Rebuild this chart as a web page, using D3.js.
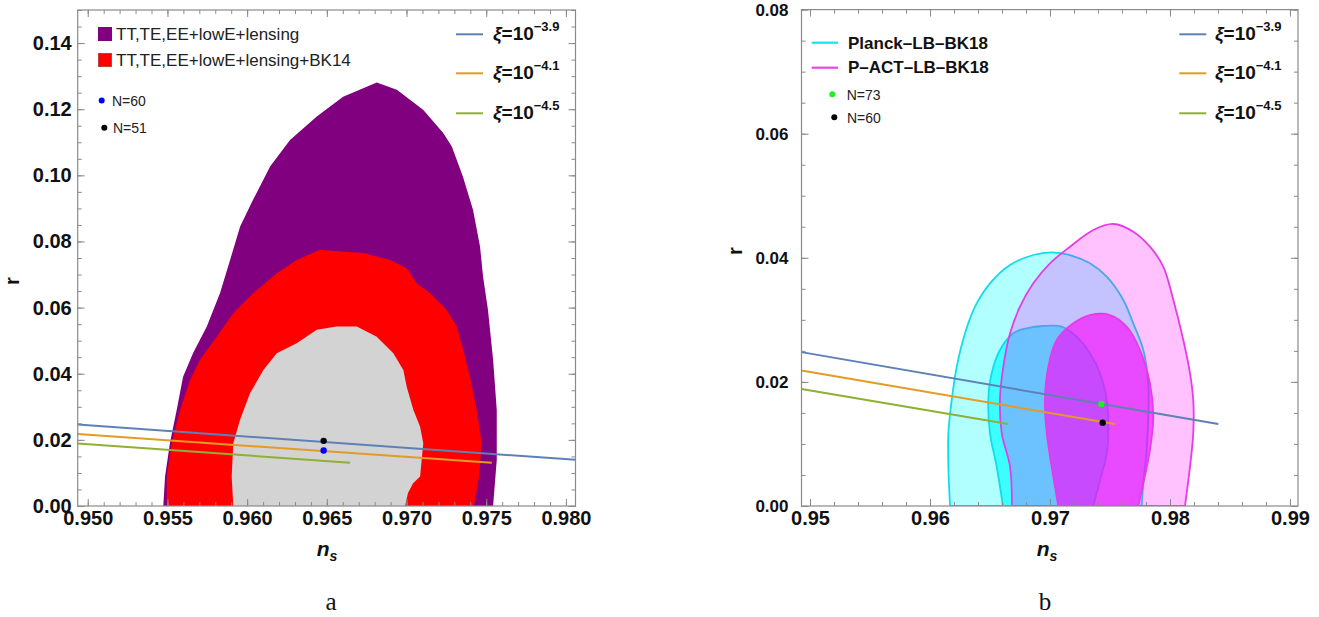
<!DOCTYPE html>
<html><head><meta charset="utf-8">
<script src="https://cdn.jsdelivr.net/npm/d3@7"></script>
<style>body{margin:0;background:#fff;} svg{display:block}</style>
</head><body><svg id="c" width="1319" height="617"></svg>
<script>
// ---------------- DATA ----------------
const leftXDomain = [0.94937, 0.9806];
const leftYDomain = [0, 0.15];
const rightXDomain = [0.94929, 0.99067];
const rightYDomain = [0, 0.08];

const leftXTicks = [0.950, 0.955, 0.960, 0.965, 0.970, 0.975, 0.980];
const leftYTicks = [0.00, 0.02, 0.04, 0.06, 0.08, 0.10, 0.12, 0.14];
const rightXTicks = [0.95, 0.96, 0.97, 0.98, 0.99];
const rightYTicks = [0.00, 0.02, 0.04, 0.06, 0.08];

// Panel a contours (ns, r)
const purpleRegion = [[0.95474,0],[0.95485,0.0089],[0.95516,0.0191],[0.95558,0.0290],[0.95598,0.0391],[0.95661,0.0463],[0.95747,0.0543],[0.95830,0.0644],[0.95893,0.0744],[0.95956,0.0845],[0.96037,0.0926],[0.96144,0.1027],[0.96269,0.1107],[0.96437,0.1178],[0.96602,0.1238],[0.96813,0.1281],[0.96939,0.1259],[0.97104,0.1198],[0.97229,0.1129],[0.97284,0.1087],[0.97354,0.0996],[0.97417,0.0896],[0.97461,0.0785],[0.97480,0.0694],[0.97511,0.0593],[0.97543,0.0442],[0.97566,0.0290],[0.97566,0.0139],[0.97543,0]];
const redRegion = [[0.95496,0],[0.95496,0.0089],[0.95527,0.0190],[0.95579,0.0290],[0.95642,0.0381],[0.95704,0.0442],[0.95809,0.0512],[0.95913,0.0583],[0.96039,0.0644],[0.96186,0.0704],[0.96311,0.0744],[0.96457,0.0775],[0.96604,0.0769],[0.96729,0.0765],[0.96897,0.0744],[0.97001,0.0719],[0.97064,0.0674],[0.97147,0.0644],[0.97252,0.0593],[0.97315,0.0543],[0.97356,0.0472],[0.97398,0.0391],[0.97440,0.0290],[0.97472,0.0190],[0.97455,0.0089],[0.97423,0]];
const grayRegion = [[0.95913,0],[0.95903,0.0089],[0.95913,0.0190],[0.95955,0.0260],[0.96018,0.0341],[0.96102,0.0411],[0.96186,0.0462],[0.96311,0.0492],[0.96437,0.0533],[0.96562,0.0543],[0.96688,0.0543],[0.96813,0.0512],[0.96917,0.0462],[0.96980,0.0411],[0.97001,0.0361],[0.97043,0.0290],[0.97085,0.0240],[0.97105,0.0190],[0.97085,0.0089],[0.97041,0.0069],[0.97009,0.0039],[0.96991,0]];

// Panel a xi lines and points
const leftXi39 = [[0.94937,0.02463],[0.9806,0.01395]];
const leftXi41 = [[0.94937,0.02175],[0.97535,0.0131]];
const leftXi45 = [[0.94937,0.01888],[0.96646,0.0131]];
const leftPointN60 = [0.9648, 0.0168];
const leftPointN51 = [0.9648, 0.0197];

// Panel b contours (ns, r)
const planckOuter = [[0.96167,0],[0.96153,0.00633],[0.96153,0.01172],[0.96181,0.01708],[0.96223,0.02245],[0.96292,0.02783],[0.96375,0.03212],[0.96500,0.03589],[0.96667,0.03884],[0.96861,0.04045],[0.97014,0.04089],[0.97167,0.04045],[0.97333,0.03911],[0.97473,0.03695],[0.97611,0.03320],[0.97694,0.02944],[0.97778,0.02514],[0.97819,0.01977],[0.97819,0.01439],[0.97806,0.00902],[0.97778,0.00366],[0.97764,0]];
const planckInner = [[0.96608,0],[0.96556,0.00633],[0.96500,0.01172],[0.96486,0.01708],[0.96514,0.02139],[0.96583,0.02514],[0.96694,0.02783],[0.96806,0.02864],[0.96944,0.02901],[0.97097,0.02890],[0.97222,0.02728],[0.97333,0.02461],[0.97417,0.02139],[0.97473,0.01708],[0.97486,0.01278],[0.97473,0.00849],[0.97417,0.00419],[0.97361,0]];
const pactOuter = [[0.96683,0],[0.96667,0.00633],[0.96598,0.01172],[0.96583,0.01708],[0.96611,0.02245],[0.96667,0.02783],[0.96750,0.03212],[0.96861,0.03589],[0.97000,0.03911],[0.97167,0.04179],[0.97361,0.04448],[0.97528,0.04545],[0.97694,0.04421],[0.97833,0.04179],[0.97944,0.03857],[0.98028,0.03320],[0.98111,0.02675],[0.98167,0.02139],[0.98194,0.01708],[0.98194,0.01172],[0.98167,0.00633],[0.98125,0]];
const pactInner = [[0.97069,0],[0.97014,0.00633],[0.96973,0.01172],[0.96958,0.01708],[0.96986,0.02245],[0.97056,0.02675],[0.97194,0.02944],[0.97333,0.03078],[0.97500,0.03078],[0.97639,0.02890],[0.97750,0.02514],[0.97833,0.01977],[0.97861,0.01439],[0.97833,0.00902],[0.97778,0.00366],[0.97736,0]];

// Panel b xi lines and points
const rightXi39 = [[0.94929,0.0248],[0.98403,0.0132]];
const rightXi41 = [[0.94929,0.02184],[0.97542,0.0132]];
const rightXi45 = [[0.94929,0.01884],[0.96653,0.0132]];
const rightPointN73 = [0.97428, 0.01644];
const rightPointN60 = [0.97439, 0.01343];

const xiExponents = ["\u22123.9", "\u22124.1", "\u22124.5"];
const leftLegendLabels = ["TT,TE,EE+lowE+lensing", "TT,TE,EE+lowE+lensing+BK14"];
const leftPointLabels = ["N=60", "N=51"];
const rightLegendLabels = ["Planck\u2013LB\u2013BK18", "P\u2013ACT\u2013LB\u2013BK18"];
const rightPointLabels = ["N=73", "N=60"];

// ---------------- STYLE / LAYOUT ----------------
const xiColors = ["#5E81B5", "#E19C24", "#8FB032"];
const FONT = "'Liberation Sans', Arial, sans-serif";
const svg = d3.select("#c");

const xL = d3.scaleLinear().domain(leftXDomain).range([77.7, 575.5]);
const yL = d3.scaleLinear().domain(leftYDomain).range([506, 10]);
const xR = d3.scaleLinear().domain(rightXDomain).range([801.5, 1298]);
const yR = d3.scaleLinear().domain(rightYDomain).range([506, 9.6]);

function inDom(s, v) { const d = s.domain(); return v >= d[0] - 1e-9 && v <= d[1] + 1e-9; }

function drawAxes(x, y, o) {
  const [X0, X1] = x.range(), [Y0, Y1] = y.range();
  const g = svg.append("g");
  const xMinor = d3.range(o.xMinorStart, x.domain()[1], o.xMinorStep).filter(v => inDom(x, v));
  const yMinor = d3.range(0, y.domain()[1] + 1e-9, o.yMinorStep).filter(v => inDom(y, v));
  const add = (gen, tr) => g.append("g").attr("transform", tr).call(gen);
  add(d3.axisBottom(x).tickValues(xMinor).tickSizeInner(-4).tickSizeOuter(0).tickFormat(""), `translate(0,${Y0})`);
  add(d3.axisTop(x).tickValues(xMinor).tickSizeInner(-4).tickSizeOuter(0).tickFormat(""), `translate(0,${Y1})`);
  add(d3.axisLeft(y).tickValues(yMinor).tickSizeInner(-4).tickSizeOuter(0).tickFormat(""), `translate(${X0},0)`);
  add(d3.axisRight(y).tickValues(yMinor).tickSizeInner(-4).tickSizeOuter(0).tickFormat(""), `translate(${X1},0)`);
  const bx = add(d3.axisBottom(x).tickValues(o.xTicks).tickSizeInner(-7).tickSizeOuter(0).tickPadding(5).tickFormat(d3.format(o.xFmt)), `translate(0,${Y0})`);
  add(d3.axisTop(x).tickValues(o.xTicks).tickSizeInner(-7).tickSizeOuter(0).tickFormat(""), `translate(0,${Y1})`);
  const ly = add(d3.axisLeft(y).tickValues(o.yTicks).tickSizeInner(-7).tickSizeOuter(0).tickPadding(o.yPad).tickFormat(d3.format(o.yFmt)), `translate(${X0},0)`);
  add(d3.axisRight(y).tickValues(o.yTicks).tickSizeInner(-7).tickSizeOuter(0).tickFormat(""), `translate(${X1},0)`);
  g.selectAll(".domain").remove();
  g.selectAll(".tick line").attr("stroke", "#8a8a8a").attr("stroke-width", 1);
  bx.selectAll("text").attr("font-family", FONT).attr("font-weight", "bold").attr("font-size", o.xFs).attr("fill", "#111");
  ly.selectAll("text").attr("font-family", FONT).attr("font-weight", "bold").attr("font-size", o.yFs).attr("fill", "#111");
  svg.append("rect").attr("x", X0).attr("y", Y1).attr("width", X1 - X0).attr("height", Y0 - Y1)
    .attr("fill", "none").attr("stroke", "#8a8a8a").attr("stroke-width", 1.2);
}

function clipFor(id, x, y) {
  const [X0, X1] = x.range(), [Y0, Y1] = y.range();
  svg.append("clipPath").attr("id", id).append("rect").attr("x", X0).attr("y", Y1).attr("width", X1 - X0).attr("height", Y0 - Y1);
  return svg.append("g").attr("clip-path", `url(#${id})`);
}

function region(g, x, y, pts, curve, fill, stroke, sw) {
  const line = d3.line().x(d => x(d[0])).y(d => y(d[1])).curve(curve);
  g.append("path").attr("d", line(pts) + "Z").attr("fill", fill)
    .attr("stroke", stroke || "none").attr("stroke-width", sw || 0);
}
function xiLine(g, x, y, pts, color) {
  g.append("path").attr("d", d3.line().x(d => x(d[0])).y(d => y(d[1]))(pts))
    .attr("fill", "none").attr("stroke", color).attr("stroke-width", 2);
}

// ---------------- PANEL A ----------------
const gA = clipFor("clipA", xL, yL);
region(gA, xL, yL, purpleRegion, d3.curveLinear, "#800080");
region(gA, xL, yL, redRegion, d3.curveLinear, "#ff0000");
region(gA, xL, yL, grayRegion, d3.curveLinear, "#d3d3d3");
[leftXi39, leftXi41, leftXi45].forEach((p, i) => xiLine(gA, xL, yL, p, xiColors[i]));
gA.append("circle").attr("cx", xL(leftPointN51[0])).attr("cy", yL(leftPointN51[1])).attr("r", 3.2).attr("fill", "#000");
gA.append("circle").attr("cx", xL(leftPointN60[0])).attr("cy", yL(leftPointN60[1])).attr("r", 3.2).attr("fill", "#0000ff");
drawAxes(xL, yL, {xTicks: leftXTicks, yTicks: leftYTicks, xFmt: ".3f", yFmt: ".2f", xMinorStart: 0.949, xMinorStep: 0.001, yMinorStep: 0.005, xFs: 20, yFs: 20, yPad: 6});

// ---------------- PANEL B ----------------
const gB = clipFor("clipB", xR, yR);
const sm = d3.curveCatmullRom.alpha(0.5);
region(gB, xR, yR, planckOuter, sm, "rgba(0,255,255,0.30)", "#10dcea", 1.8);
region(gB, xR, yR, planckInner, sm, "rgba(0,255,255,0.65)", "#10dcea", 1.8);
region(gB, xR, yR, pactOuter, sm, "rgba(255,0,255,0.24)", "#e63ce6", 1.8);
region(gB, xR, yR, pactInner, sm, "rgba(255,0,255,0.62)", "#e63ce6", 1.8);
[rightXi39, rightXi41, rightXi45].forEach((p, i) => xiLine(gB, xR, yR, p, xiColors[i]));
gB.append("circle").attr("cx", xR(rightPointN73[0])).attr("cy", yR(rightPointN73[1])).attr("r", 3.2).attr("fill", "#22ee22");
gB.append("circle").attr("cx", xR(rightPointN60[0])).attr("cy", yR(rightPointN60[1])).attr("r", 3.2).attr("fill", "#000");
drawAxes(xR, yR, {xTicks: rightXTicks, yTicks: rightYTicks, xFmt: ".2f", yFmt: ".2f", xMinorStart: 0.95, xMinorStep: 0.002, yMinorStep: 0.005, xFs: 20, yFs: 17, yPad: 13});

// ---------------- LEGENDS ----------------
function txt(x, y, s, fs, weight, fill, anchor) {
  return svg.append("text").attr("x", x).attr("y", y).text(s).attr("font-family", FONT)
    .attr("font-size", fs).attr("font-weight", weight || "normal").attr("fill", fill || "#222")
    .attr("text-anchor", anchor || "start");
}
function xiLegend(x0, textX, ys) {
  ys.forEach((yy, i) => {
    svg.append("line").attr("x1", x0).attr("x2", x0 + 27).attr("y1", yy).attr("y2", yy)
      .attr("stroke", xiColors[i]).attr("stroke-width", 2);
    const t = svg.append("text").attr("x", textX).attr("y", yy + 6).attr("font-family", FONT)
      .attr("font-weight", "bold").attr("font-size", 19).attr("fill", "#111");
    t.append("tspan").attr("font-style", "italic").text("\u03BE");
    t.append("tspan").text("=10");
    t.append("tspan").attr("font-size", 13).attr("dy", -9).text(xiExponents[i]);
  });
}
svg.append("rect").attr("x", 98).attr("y", 27).attr("width", 14).attr("height", 14).attr("fill", "#800080");
svg.append("rect").attr("x", 98.5).attr("y", 53.5).attr("width", 13).attr("height", 13).attr("fill", "#ff0000").attr("stroke", "#c04040").attr("stroke-width", 1);
txt(116, 40, leftLegendLabels[0], 17);
txt(116, 66, leftLegendLabels[1], 17);
svg.append("circle").attr("cx", 101.7).attr("cy", 100.5).attr("r", 3).attr("fill", "#0000ff");
svg.append("circle").attr("cx", 104.3).attr("cy", 127.7).attr("r", 3).attr("fill", "#000");
txt(112, 105.5, leftPointLabels[0], 14);
txt(113, 132.5, leftPointLabels[1], 14);
xiLegend(456, 493, [34.3, 73.3, 113.3]);
svg.append("line").attr("x1", 811.7).attr("x2", 838).attr("y1", 42.7).attr("y2", 42.7).attr("stroke", "#10e6f0").attr("stroke-width", 2.2);
svg.append("line").attr("x1", 811.7).attr("x2", 838).attr("y1", 67.7).attr("y2", 67.7).attr("stroke", "#f040f0").attr("stroke-width", 2.2);
txt(848, 48.5, rightLegendLabels[0], 17, "bold", "#111");
txt(848, 73, rightLegendLabels[1], 17, "bold", "#111");
svg.append("circle").attr("cx", 832.3).attr("cy", 94.3).attr("r", 3).attr("fill", "#22ee22");
svg.append("circle").attr("cx", 834.3).attr("cy", 117.3).attr("r", 3).attr("fill", "#000");
txt(846.7, 99.5, rightPointLabels[0], 14);
txt(847, 122.5, rightPointLabels[1], 14);
xiLegend(1179.3, 1215, [34.3, 73.3, 113.3]);

// ---------------- AXIS TITLES / CAPTIONS ----------------
function rTitle(x, y) {
  svg.append("text").attr("transform", `translate(${x},${y}) rotate(-90)`).attr("text-anchor", "middle")
    .attr("font-family", FONT).attr("font-weight", "bold").attr("font-size", 20).attr("fill", "#111").text("r");
}
function nsTitle(x, y) {
  const t = svg.append("text").attr("x", x).attr("y", y).attr("text-anchor", "middle")
    .attr("font-family", FONT).attr("font-weight", "bold").attr("font-style", "italic").attr("fill", "#111");
  t.append("tspan").attr("font-size", 21).text("n");
  t.append("tspan").attr("font-size", 14).attr("dy", 5).text("s");
}
rTitle(19, 281);
rTitle(742, 251);
nsTitle(327, 556);
nsTitle(1047, 556);
const cap = (x, s) => svg.append("text").attr("x", x).attr("y", 610).attr("text-anchor", "middle")
  .attr("font-family", "'Liberation Serif', 'DejaVu Serif', serif").attr("font-size", 25).attr("fill", "#111").text(s);
cap(331, "a");
cap(1045, "b");
</script></body></html>
